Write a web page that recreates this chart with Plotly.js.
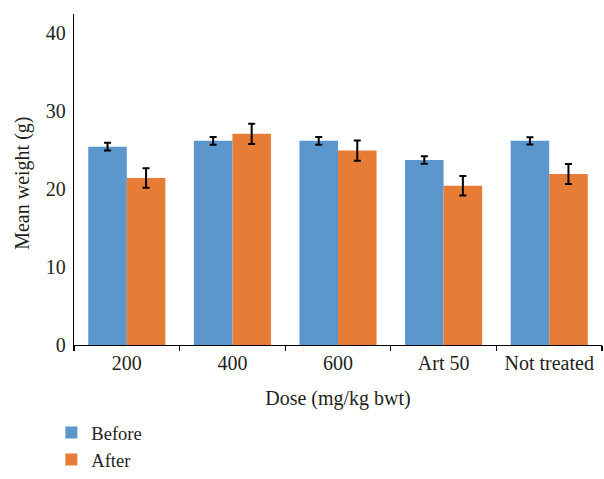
<!DOCTYPE html>
<html>
<head>
<meta charset="utf-8">
<script src="https://cdn.plot.ly/plotly-3.0.1.min.js"></script>
<style>html,body{margin:0;padding:0;background:#fff;}#chart{width:604px;height:479px;}</style>
</head>
<body>
<div id="chart"></div>
<script>
const categories = ["200", "400", "600", "Art 50", "Not treated"];
const beforeValues = [25.4, 26.15, 26.15, 23.7, 26.15];
const beforeErrors = [0.5, 0.5, 0.5, 0.47, 0.47];
const afterValues = [21.4, 27.05, 24.9, 20.4, 21.9];
const afterErrors = [1.25, 1.3, 1.3, 1.25, 1.28];
const seriesNames = ["Before", "After"];
const xTitle = 'Dose (mg/kg bwt)';
const yTitle = 'Mean weight (g)';

const fontFam = '"Liberation Serif", "DejaVu Serif", serif';
const txt = '#231f20';
const fs = 20;

const traces = [
  {
    type: 'bar', name: seriesNames[0], x: categories, y: beforeValues,
    marker: {color: '#5b96cc'},
    error_y: {type: 'data', array: beforeErrors, visible: true, color: '#000', thickness: 2, width: 3.5}
  },
  {
    type: 'bar', name: seriesNames[1], x: categories, y: afterValues,
    marker: {color: '#e67c35'},
    error_y: {type: 'data', array: afterErrors, visible: true, color: '#000', thickness: 2, width: 3.5}
  }
];

const layout = {
  width: 604, height: 479,
  margin: {l: 74, r: 2, t: 14, b: 134, autoexpand: false},
  paper_bgcolor: '#fff', plot_bgcolor: '#fff',
  font: {family: fontFam, size: fs, color: txt},
  barmode: 'group', bargap: 0.27, bargroupgap: 0,
  showlegend: true,
  legend: {
    orientation: 'v', xref: 'container', yref: 'container',
    x: 0.085, y: 0.0, xanchor: 'left', yanchor: 'bottom',
    font: {family: fontFam, size: 18.5, color: txt},
    bgcolor: 'rgba(0,0,0,0)', itemwidth: 30
  },
  xaxis: {
    type: 'category',
    showline: true, linecolor: '#000', linewidth: 1.3,
    ticks: 'outside', tickson: 'boundaries', ticklen: 5, tickcolor: '#000', tickwidth: 1.3,
    showgrid: false, zeroline: false,
    tickfont: {family: fontFam, size: fs, color: txt},
    title: {text: xTitle, font: {family: fontFam, size: fs, color: txt}, standoff: 17}
  },
  yaxis: {
    range: [0, 42.4],
    tickvals: [0, 10, 20, 30, 40],
    showline: true, linecolor: '#000', linewidth: 1.3,
    ticks: '', showgrid: false, zeroline: false,
    ticklabelstandoff: 3,
    tickfont: {family: fontFam, size: fs, color: txt}
  },
  annotations: [
    {
      text: yTitle, textangle: -90, showarrow: false,
      xref: 'paper', yref: 'paper', x: -0.0966, y: 0.49,
      xanchor: 'center', yanchor: 'middle',
      font: {family: fontFam, size: fs, color: txt}
    }
  ]
};

Plotly.newPlot('chart', traces, layout, {displayModeBar: false, staticPlot: true});
</script>
</body>
</html>
